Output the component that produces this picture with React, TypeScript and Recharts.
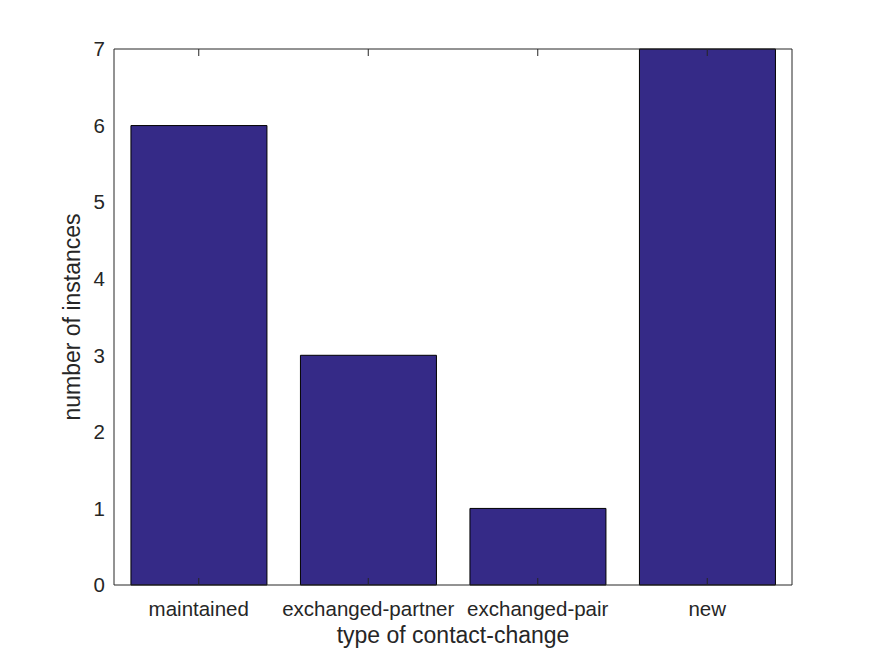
import { BarChart, Bar, XAxis, YAxis } from "recharts";

const categories = ["maintained", "exchanged-partner", "exchanged-pair", "new"];
const instances = [6, 3, 1, 7];
const yTicks = [0, 1, 2, 3, 4, 5, 6, 7];

const data = categories.map((name, i) => ({ name, instances: instances[i] }));

const ink = "#262626";
const barColor = "#352A87";
const font = "Arial, 'Liberation Sans', Helvetica, sans-serif";

const NoLabel = () => <g />;

const XTitle = ({ viewBox }: any) => {
  const { x, y, width } = viewBox;
  return (
    <text x={x + width / 2} y={y + 58} textAnchor="middle" fill={ink} fontSize={23}>
      type of contact-change
    </text>
  );
};

const YTitle = ({ viewBox }: any) => {
  const { x, y, height } = viewBox;
  const cx = x + 26;
  const cy = y + height / 2;
  return (
    <text x={cx} y={cy} transform={`rotate(-90, ${cx}, ${cy})`} textAnchor="middle" fill={ink} fontSize={23}>
      number of instances
    </text>
  );
};

const App = () => {
  return (
    <div style={{ width: 859, height: 640, fontFamily: font }}>
      <BarChart
        width={859}
        height={640}
        data={data}
        margin={{ top: 41, right: 75, bottom: 33, left: 46 }}
        barCategoryGap="10%"
      >
        <XAxis
          xAxisId="main"
          dataKey="name"
          orientation="bottom"
          height={30}
          interval={0}
          tickLine={false}
          tickSize={0}
          tickMargin={16}
          axisLine={{ stroke: ink }}
          tick={{ fill: ink, fontSize: 20.5 }}
          label={<XTitle />}
        />
        <YAxis
          yAxisId="main"
          width={60}
          domain={[0, 7]}
          ticks={yTicks}
          interval={0}
          tickLine={false}
          tickSize={0}
          tickMargin={9}
          axisLine={{ stroke: ink }}
          tick={{ fill: ink, fontSize: 20.5 }}
          label={<YTitle />}
        />
        <Bar
          xAxisId="main"
          yAxisId="main"
          dataKey="instances"
          fill={barColor}
          stroke="#000000"
          strokeWidth={1}
          isAnimationActive={false}
        />
        {/* inward ticks drawn over the bars, like a MATLAB box */}
        <XAxis
          xAxisId="bottomTicks"
          dataKey="name"
          orientation="bottom"
          mirror
          height={1}
          interval={0}
          tick={<NoLabel />}
          tickSize={7}
          axisLine={false}
          tickLine={{ stroke: ink }}
        />
        <XAxis
          xAxisId="top"
          dataKey="name"
          orientation="top"
          mirror
          height={1}
          interval={0}
          tick={<NoLabel />}
          tickSize={7}
          axisLine={{ stroke: ink }}
          tickLine={{ stroke: ink }}
        />
        <YAxis
          yAxisId="leftTicks"
          orientation="left"
          mirror
          width={1}
          domain={[0, 7]}
          ticks={yTicks}
          interval={0}
          tick={<NoLabel />}
          tickSize={7}
          axisLine={false}
          tickLine={{ stroke: ink }}
        />
        <YAxis
          yAxisId="right"
          orientation="right"
          mirror
          width={1}
          domain={[0, 7]}
          ticks={yTicks}
          interval={0}
          tick={<NoLabel />}
          tickSize={7}
          axisLine={{ stroke: ink }}
          tickLine={{ stroke: ink }}
        />
      </BarChart>
    </div>
  );
};

export default App;
